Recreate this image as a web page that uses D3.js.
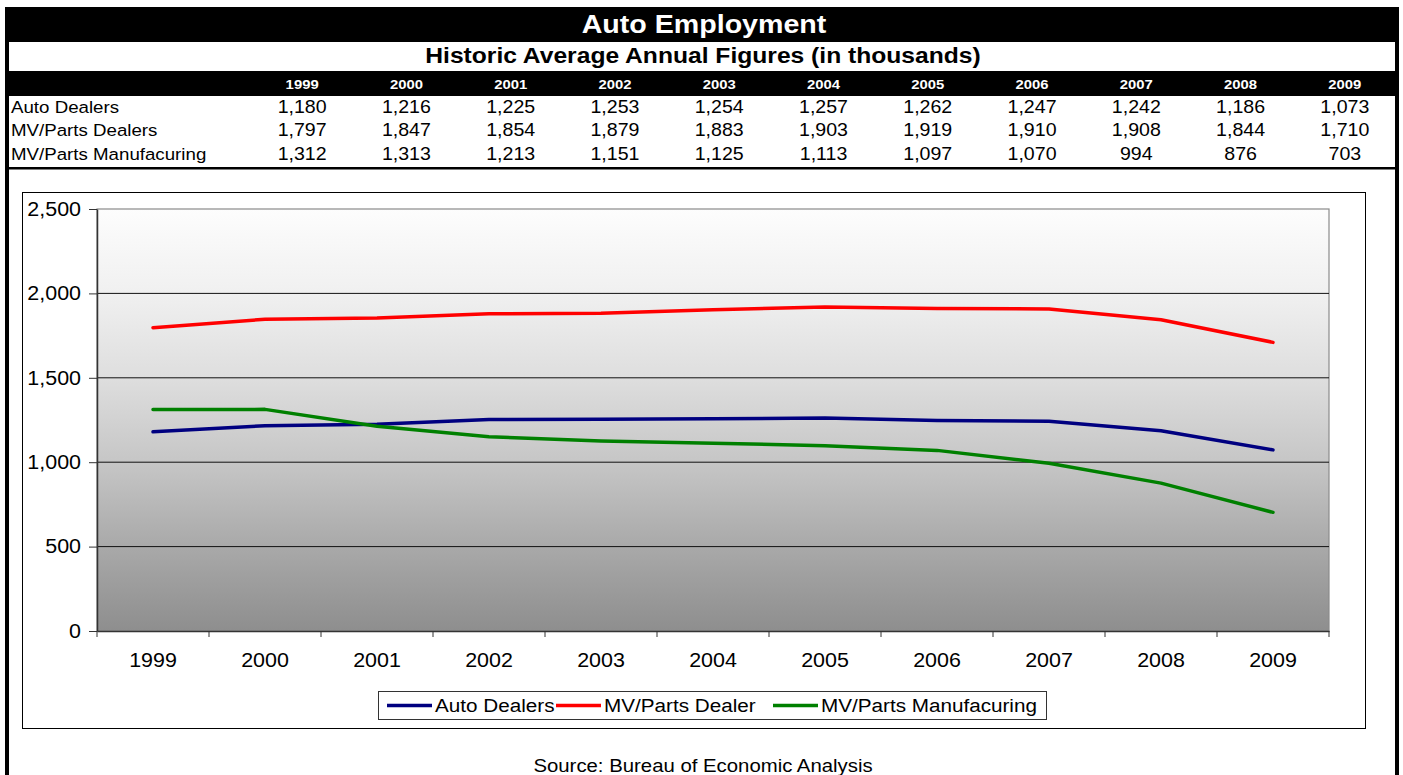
<!DOCTYPE html>
<html>
<head>
<meta charset="utf-8">
<script src="https://cdn.jsdelivr.net/npm/d3@7"></script>
<style>
  body { margin: 0; background: #fff; }
  svg { display: block; }
  text { font-family: Arial, "Liberation Sans", sans-serif; }
</style>
</head>
<body>
<svg id="chart" width="1403" height="775"></svg>
<script>
// ---- data ----
const years = ["1999","2000","2001","2002","2003","2004","2005","2006","2007","2008","2009"];
const autoDealers = [1180,1216,1225,1253,1254,1257,1262,1247,1242,1186,1073];
const mvPartsDealers = [1797,1847,1854,1879,1883,1903,1919,1910,1908,1844,1710];
const mvPartsManufacturing = [1312,1313,1213,1151,1125,1113,1097,1070,994,876,703];
const rowLabels = ["Auto Dealers","MV/Parts Dealers","MV/Parts Manufacuring"];
const legendLabels = ["Auto Dealers","MV/Parts Dealer","MV/Parts Manufacuring"];
const seriesColors = ["#000080","#ff0000","#008000"];
const yTicks = [0,500,1000,1500,2000,2500];
const titleText = "Auto Employment";
const subtitleText = "Historic Average Annual Figures (in thousands)";
const sourceText = "Source: Bureau of Economic Analysis";

const series = [autoDealers, mvPartsDealers, mvPartsManufacturing];
const fmt = d3.format(",");
const SX = 1.1; // horizontal text stretch used throughout the sheet

const svg = d3.select("#chart");

// place a text element at (x,y) with the sheet's horizontal stretch
function label(parent, x, y, str, opts) {
  return parent.append("text")
    .attr("transform", `translate(${x},${y}) scale(${SX},1)`)
    .attr("text-anchor", opts.anchor || "start")
    .attr("font-size", opts.size)
    .attr("font-weight", opts.weight || "normal")
    .attr("fill", opts.fill || "#000")
    .text(str);
}

// ---- sheet frame and table ----
const L = 5, R = 1399;
svg.append("rect").attr("x", L).attr("y", 7).attr("width", R - L).attr("height", 35).attr("fill", "#000");
svg.append("rect").attr("x", L).attr("y", 71).attr("width", R - L).attr("height", 25).attr("fill", "#000");
svg.append("rect").attr("x", L).attr("y", 7).attr("width", 4).attr("height", 775).attr("fill", "#000");
svg.append("rect").attr("x", R - 4).attr("y", 7).attr("width", 4).attr("height", 775).attr("fill", "#000");
svg.append("rect").attr("x", L).attr("y", 167).attr("width", R - L).attr("height", 2.5).attr("fill", "#000");

label(svg, 704, 33, titleText, { anchor: "middle", size: 26, weight: "bold", fill: "#fff" });
label(svg, 703, 63, subtitleText, { anchor: "middle", size: 22.4, weight: "bold" });

const col = d3.scaleBand().domain(years).range([250, 1397]);
const colC = d => col(d) + col.bandwidth() / 2;

years.forEach(yr => label(svg, colC(yr), 89, yr, { anchor: "middle", size: 13.5, weight: "bold", fill: "#fff" }));

const rowBase = [113, 136, 160];
rowLabels.forEach((name, i) => {
  label(svg, 11, rowBase[i], name, { size: 17 });
  series[i].forEach((v, j) => label(svg, colC(years[j]), rowBase[i], fmt(v), { anchor: "middle", size: 17.8 }));
});

// ---- chart box ----
svg.append("rect").attr("x", 22.5).attr("y", 192.5).attr("width", 1343).attr("height", 536)
  .attr("fill", "#fff").attr("stroke", "#000").attr("stroke-width", 1);

const plot = { x0: 97, x1: 1329, y0: 209, y1: 631 };

const defs = svg.append("defs");
const grad = defs.append("linearGradient").attr("id", "plotBg")
  .attr("x1", 0).attr("y1", 0).attr("x2", 0).attr("y2", 1);
[[0, "#fdfdfd"], [0.2, "#f0f0f0"], [0.4, "#dedede"], [0.6, "#c6c6c6"], [0.8, "#a9a9a9"], [1, "#8e8e8e"]]
  .forEach(([o, c]) => grad.append("stop").attr("offset", o).attr("stop-color", c));

svg.append("rect").attr("x", plot.x0).attr("y", plot.y0)
  .attr("width", plot.x1 - plot.x0).attr("height", plot.y1 - plot.y0)
  .attr("fill", "url(#plotBg)").attr("stroke", "#8a8a8a").attr("stroke-width", 1.2);

const x = d3.scaleBand().domain(years).range([plot.x0, plot.x1]);
const xc = d => x(d) + x.bandwidth() / 2;
const y = d3.scaleLinear().domain([0, 2500]).range([plot.y1, plot.y0]);

// horizontal gridlines
svg.append("g").selectAll("line")
  .data(yTicks.filter(v => v > 0 && v < 2500))
  .join("line")
  .attr("x1", plot.x0).attr("x2", plot.x1)
  .attr("y1", d => y(d)).attr("y2", d => y(d))
  .attr("stroke", "#111").attr("stroke-width", 1);

// y axis
const yAxis = svg.append("g").attr("transform", `translate(${plot.x0},0)`)
  .call(d3.axisLeft(y).tickValues(yTicks).tickFormat(fmt).tickSize(8).tickSizeOuter(0).tickPadding(8));
yAxis.select(".domain").attr("stroke", "#333").attr("stroke-width", 1.5);
yAxis.selectAll(".tick line").attr("stroke", "#333");
yAxis.selectAll(".tick text")
  .attr("font-size", 19.5).attr("font-family", "Arial, 'Liberation Sans', sans-serif").attr("fill", "#000")
  .each(function () {
    const t = d3.select(this);
    t.attr("x", +t.attr("x") / SX).attr("transform", `scale(${SX},1)`);
  });

// x axis: labels at category centres, ticks at category boundaries
const xAxis = svg.append("g").attr("transform", `translate(0,${plot.y1})`)
  .call(d3.axisBottom(x).tickSize(0).tickPadding(22));
xAxis.select(".domain").attr("stroke", "#333").attr("stroke-width", 1.5);
xAxis.selectAll(".tick text")
  .attr("font-size", 19.5).attr("font-family", "Arial, 'Liberation Sans', sans-serif").attr("fill", "#000")
  .attr("transform", `scale(${SX},1)`);
svg.append("g").selectAll("line")
  .data(years.map(d => x(d)).concat([plot.x1]))
  .join("line")
  .attr("x1", d => d).attr("x2", d => d)
  .attr("y1", plot.y1).attr("y2", plot.y1 + 6)
  .attr("stroke", "#333").attr("stroke-width", 1);

// series lines
const line = d3.line().x((d, i) => xc(years[i])).y(d => y(d));
series.forEach((s, i) => {
  svg.append("path").datum(s)
    .attr("d", line)
    .attr("fill", "none")
    .attr("stroke", seriesColors[i])
    .attr("stroke-width", 3.5)
    .attr("stroke-linejoin", "round")
    .attr("stroke-linecap", "round");
});

// legend
svg.append("rect").attr("x", 378.5).attr("y", 691.5).attr("width", 668).attr("height", 28)
  .attr("fill", "#fff").attr("stroke", "#333").attr("stroke-width", 1);
const legendTextX = [435, 604, 821];
legendLabels.forEach((name, i) => {
  const tx = legendTextX[i];
  svg.append("line").attr("x1", tx - 48).attr("x2", tx - 3)
    .attr("y1", 705.5).attr("y2", 705.5)
    .attr("stroke", seriesColors[i]).attr("stroke-width", 3.5);
  label(svg, tx, 712, name, { size: 18.8 });
});

// source note
label(svg, 703, 772, sourceText, { anchor: "middle", size: 18.5 });
</script>
</body>
</html>
